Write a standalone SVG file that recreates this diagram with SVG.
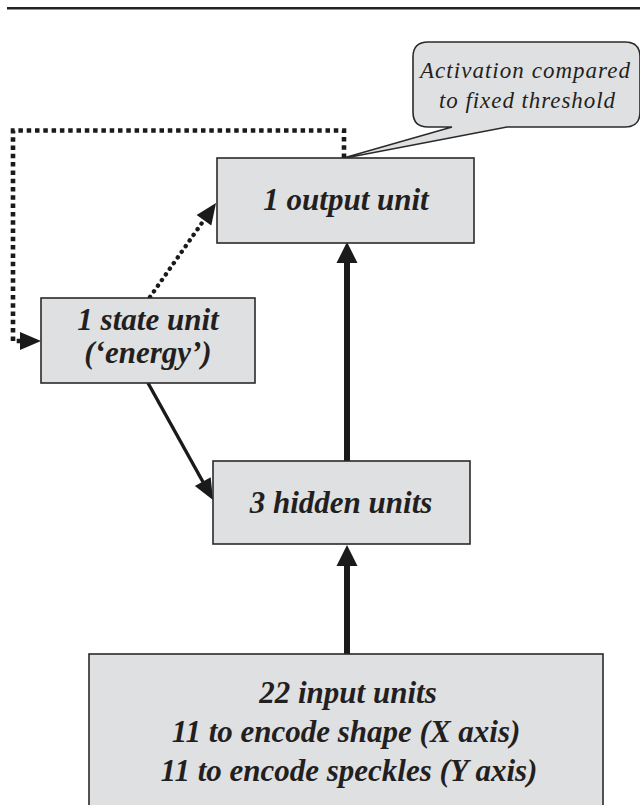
<svg xmlns="http://www.w3.org/2000/svg" width="640" height="805" viewBox="0 0 640 805">
<style>
.box{fill:#dfe0e2;stroke:#2a2a2a;stroke-width:1.6}
.lbl{font-family:"Liberation Serif","Times New Roman",serif;font-weight:bold;font-style:italic;font-size:31px;fill:#231f20;text-anchor:middle}
.note{font-family:"Liberation Serif","Times New Roman",serif;font-style:italic;font-size:23px;fill:#231f20;text-anchor:middle}
.head{fill:#1a1a1a;stroke:none}
</style>
<rect width="640" height="805" fill="#ffffff"/>
<line x1="7" y1="8.3" x2="640" y2="8.3" stroke="#222" stroke-width="2.6"/>

<g id="callout">
<path class="box" d="M452,127 H428 Q413,127 413,112 V57 Q413,42 428,42 H625 Q640,42 640,57 V112 Q640,127 625,127 H507 L340,159 Z"/>
<text class="note" x="525" y="78" textLength="210">Activation compared</text>
<text class="note" x="527" y="108" textLength="176">to fixed threshold</text>
</g>

<g id="connectors">
<path d="M344,158 V130.5 H13 V341 H21" fill="none" stroke="#1a1a1a" stroke-width="4.6" stroke-dasharray="4.5 3.8"/>
<polygon class="head" points="41,341 20,332 20,350"/>
<line x1="150" y1="297" x2="204" y2="220" stroke="#1a1a1a" stroke-width="4.4" stroke-linecap="round" stroke-dasharray="0.1 6.8"/>
<polygon class="head" points="216,203 211.3,225.4 196.6,215"/>
<line x1="148" y1="383" x2="203" y2="482" stroke="#1a1a1a" stroke-width="3.4"/>
<polygon class="head" points="213,500 210.7,477.2 194.9,486"/>
<line x1="347" y1="461" x2="347" y2="261" stroke="#1a1a1a" stroke-width="6"/>
<polygon class="head" points="347,242 336.5,263 357.5,263"/>
<line x1="347" y1="654" x2="347" y2="564" stroke="#1a1a1a" stroke-width="6"/>
<polygon class="head" points="347,545 336.5,566 357.5,566"/>
</g>

<g id="output">
<rect class="box" x="217" y="158" width="257" height="85"/>
<text class="lbl" x="346" y="210">1 output unit</text>
</g>

<g id="state">
<rect class="box" x="41" y="298" width="214" height="85"/>
<text class="lbl" x="148" y="330" font-size="30">1 state unit</text>
<text class="lbl" x="148" y="363" font-size="30">(‘energy’)</text>
</g>

<g id="hidden">
<rect class="box" x="213" y="461" width="257" height="83"/>
<text class="lbl" x="341" y="513">3 hidden units</text>
</g>

<g id="input">
<rect class="box" x="89" y="654" width="514" height="160"/>
<text class="lbl" x="348" y="703">22 input units</text>
<text class="lbl" x="346" y="742">11 to encode shape (X axis)</text>
<text class="lbl" x="349" y="781">11 to encode speckles (Y axis)</text>
</g>
</svg>
